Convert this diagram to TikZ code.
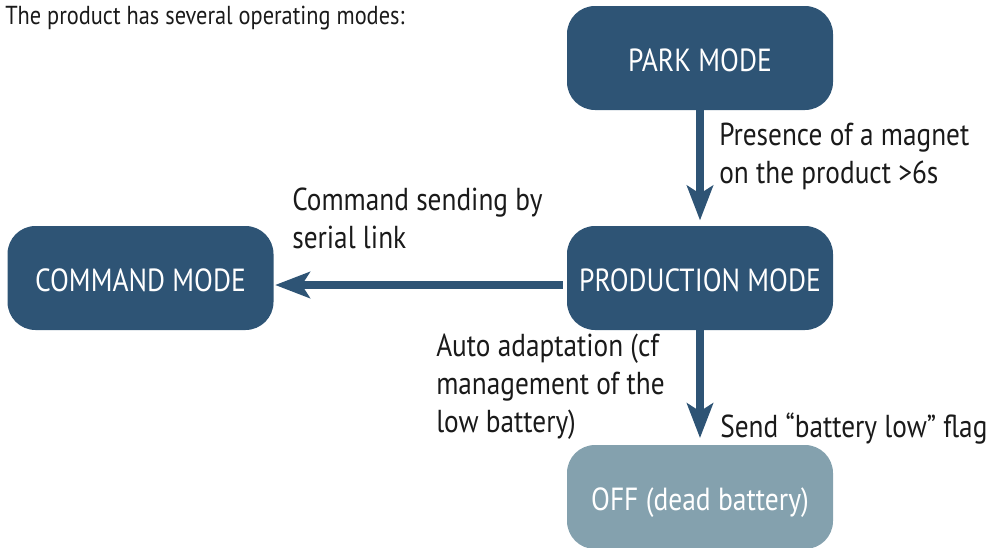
\documentclass[tikz,border=0pt]{standalone}
\usepackage{fontspec}
\setmainfont{PT Sans}[FakeStretch=0.86]
\usetikzlibrary{arrows.meta}

\definecolor{modeblue}{HTML}{2E5475}
\definecolor{offblue}{HTML}{84A1AE}
\definecolor{notegray}{HTML}{1A1A1A}

\tikzset{
  modebox/.style={fill=modeblue, text=white, rounded corners=21pt,
    minimum width=199.5pt, minimum height=78pt, inner sep=0pt,
    text height=21pt, text depth=1.5pt,
    font=\fontsize{24}{28}\selectfont},
  offbox/.style={modebox, fill=offblue},
  flow/.style={draw=modeblue, line width=6pt,
    -{Stealth[length=26pt, width=19.5pt, inset=6pt]}},
  note/.style={anchor=west, align=left, inner sep=0pt, text=notegray,
    font=\fontsize{23.8}{28.5}\selectfont}
}

\begin{document}
\begin{tikzpicture}[x=0.75pt, y=-0.75pt]
      \useasboundingbox (0, 0) rectangle (996, 547);

      \node [anchor=west, inner sep=0pt, text=notegray,
        font=\fontsize{19.5}{23}\selectfont] (title) at (5, 18)
        {The product has several operating modes:};

      % the four modes
      \node [modebox] (park) at (700, 58) {PARK MODE};
      \node [modebox] (prod) at (700, 278) {PRODUCTION MODE};
      \node [modebox] (cmd) at (140.5, 278) {COMMAND MODE};
      \node [offbox] (off) at (700, 497) {OFF (dead battery)};

      % transitions
      \draw [flow, shorten >=4pt] (park) -- (prod);
      \draw [flow, shorten <=3pt, shorten >=1pt] ([yshift=-5.25pt]prod.west)
        -- ([yshift=-5.25pt]cmd.east);
      \draw [flow, shorten >=5pt] (prod) -- (off);

      \node [note] (magnet) at (719, 156)
        {Presence of a magnet\\on the product >6s};
      \node [note] (serial) at (292, 218)
        {Command sending by\\serial link};
      \node [note] (adapt) at (436, 387)
        {Auto adaptation (cf\\management of the\\low battery)};
      \node [note] (flag) at (720, 429)
        {Send “battery low” flag};
    \end{tikzpicture}
\end{document}
